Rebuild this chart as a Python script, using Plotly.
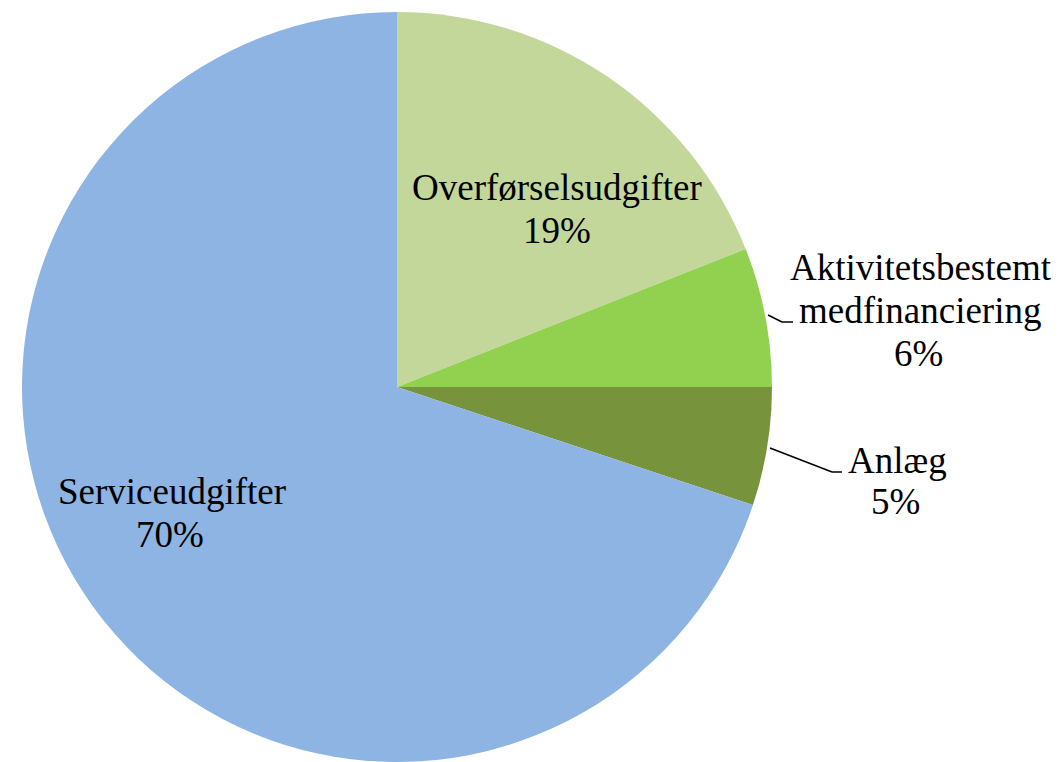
import plotly.graph_objects as go

W, H = 1059, 762

labels = ["Overførselsudgifter", "Aktivitetsbestemt medfinanciering", "Anlæg", "Serviceudgifter"]
values = [19.0, 6.0, 5.1, 69.9]
pct_text = ["19%", "6%", "5%", "70%"]
colors = ["#C4D79B", "#92D050", "#77933C", "#8DB4E2"]

# label lines (text, center x px, baseline y px)
label_lines = [
    [("Overførselsudgifter", 557, 199), ("19%", 557, 242)],
    [("Aktivitetsbestemt", 921, 279), ("medfinanciering", 920, 322), ("6%", 918, 365)],
    [("Anlæg", 897, 472), ("5%", 895, 513)],
    [("Serviceudgifter", 172, 503), ("70%", 170, 546)],
]
leaders = [
    None,
    [(768, 315), (782, 322), (793, 322)],
    [(770, 448), (832, 472), (842, 472)],
    None,
]

FS = 37
FONT = "Liberation Serif"

def px(x, y):
    return x / W, 1 - y / H

fig = go.Figure(go.Pie(
    labels=labels, values=values, sort=False, direction="clockwise", rotation=0,
    marker=dict(colors=colors, line=dict(width=0)),
    textinfo="none", hoverinfo="label+percent",
    domain=dict(x=[19 / W, 775 / W], y=[0, 1 - 12 / H]),
))

ann = []
for i, lines in enumerate(label_lines):
    for txt, cx, by in lines:
        xx, yy = px(cx, by - 0.32 * FS)
        ann.append(dict(text=txt, x=xx, y=yy, xref="paper", yref="paper",
                        xanchor="center", yanchor="middle", showarrow=False,
                        font=dict(family=FONT, size=FS, color="black")))
shapes = []
for pts in leaders:
    if pts:
        for (x0, y0), (x1, y1) in zip(pts[:-1], pts[1:]):
            a0, b0 = px(x0, y0)
            a1, b1 = px(x1, y1)
            shapes.append(dict(type="line", xref="paper", yref="paper",
                               x0=a0, y0=b0, x1=a1, y1=b1,
                               line=dict(color="black", width=1.5)))

fig.update_layout(width=W, height=H, margin=dict(l=0, r=0, t=0, b=0),
                  showlegend=False, paper_bgcolor="white",
                  annotations=ann, shapes=shapes)
fig.write_html("out.html", config={"displayModeBar": False},
               post_script="document.body.style.margin='0';document.body.style.overflow='hidden';")
